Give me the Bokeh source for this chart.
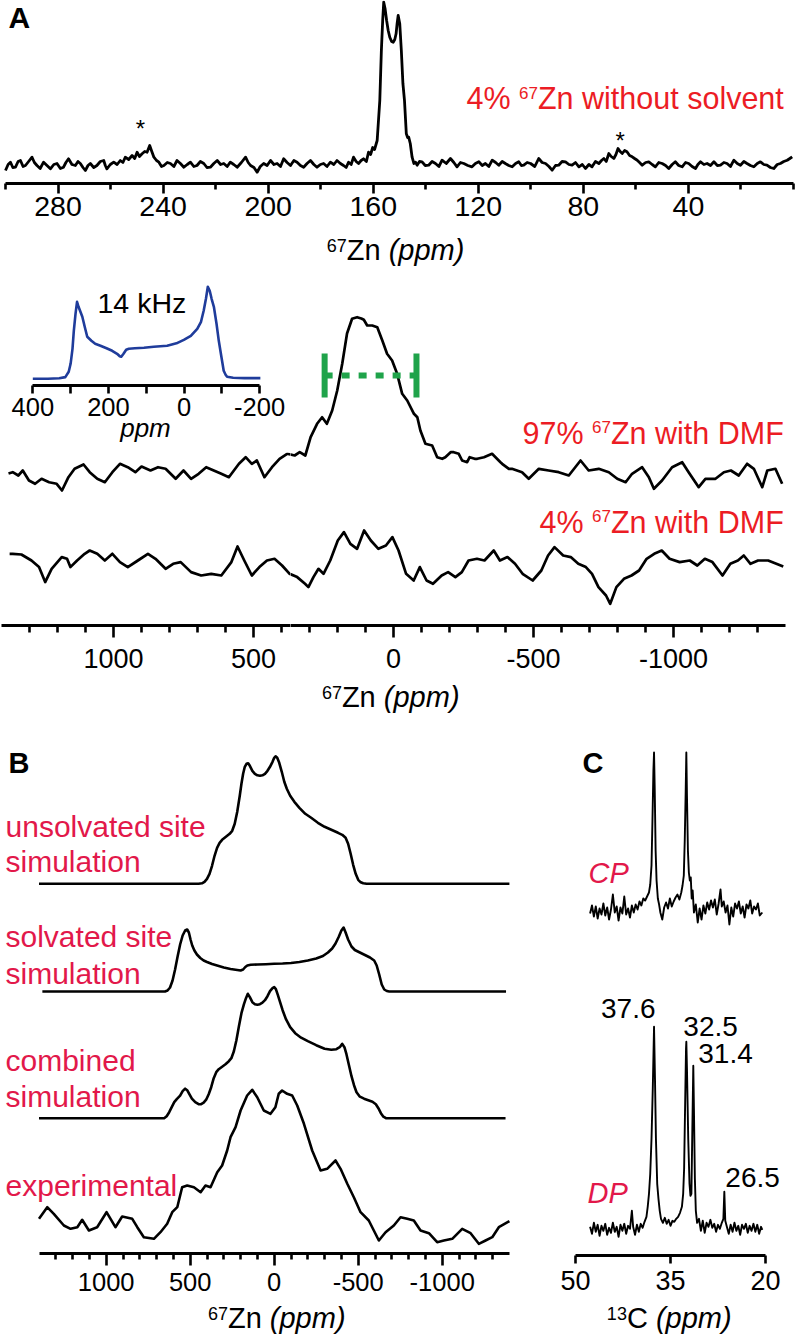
from bokeh.plotting import figure
from bokeh.layouts import row, column
from bokeh.models import Range1d, LinearAxis, FixedTicker, Label
from bokeh.embed import file_html
from bokeh.resources import INLINE

# ------------------------------------------------------------------ data
# Panel A (top): 4% 67Zn without solvent, (ppm, intensity)
A_SPEC = [
    (300.0, -7), (299.0, -1), (298.1, 1.3), (297.2, -4), (296.2, -3.7), (295.2, 2), (294.3, 3), (293.3, -3),
    (292.4, -2), (291.2, 2), (289.9, 6.3), (289.0, 1), (288.0, -2), (286.8, -5), (285.5, 1.3), (284.2, -2),
    (282.9, -5.3), (281.6, -1), (280.4, 0), (279.1, -5), (277.9, -3.7), (277.0, 1), (276.0, 4.7), (274.7, -1),
    (273.4, -2), (272.4, 2), (271.5, 0), (270.5, -4), (269.6, -7), (268.6, -2), (267.7, 0), (266.4, -4),
    (265.2, -2), (263.9, 2), (262.6, 3), (262.0, -2), (261.4, -5.3), (260.1, -1), (258.8, 1.3), (257.5, -1),
    (256.3, 3), (255.3, 1), (254.4, 6.3), (253.1, 4), (251.8, 8), (250.8, 5), (249.9, 11.3), (249.0, 7),
    (248.0, 9.7), (247.0, 12), (246.1, 11.3), (245.1, 18), (244.3, 12), (243.5, 6.3), (242.5, 3), (241.6, 1.3),
    (240.6, -3), (239.7, -2), (238.4, 1), (237.2, 0), (235.9, -3), (234.7, 3), (233.4, 0), (232.1, -3.7),
    (230.8, -1), (229.6, 1.3), (228.3, -3), (227.1, -2), (225.8, 2), (224.5, 0), (223.3, -4), (222.0, -3.7),
    (220.7, 0), (219.4, 3), (218.1, -1), (216.9, 0), (215.6, -3), (214.4, 1.3), (213.1, -1), (211.8, -3.7),
    (210.2, 1), (208.6, 6.3), (207.6, 1), (206.7, -2), (205.4, -4), (204.2, -8.7), (203.0, -3), (201.7, 0),
    (200.4, -2), (199.1, 3), (197.8, -1), (196.6, 0), (195.3, -3), (194.1, 4.7), (192.8, 1), (191.5, -2),
    (190.2, 3), (189.0, 1.3), (187.7, -2), (186.5, -3.7), (185.2, 0), (183.9, 3), (182.6, -1), (181.4, -3.7),
    (180.1, -1), (178.9, 0), (177.6, -3), (176.3, 1.3), (175.0, -1), (173.8, 3), (172.5, 0), (171.3, -2),
    (170.3, -4), (169.4, 1.3), (168.4, -1), (167.5, 6.3), (166.5, 2), (165.6, 0), (164.6, 3), (163.7, 4.7),
    (162.6, 2), (161.8, 11.3), (161.0, 9), (160.2, 16), (159.5, 14), (158.5, 23), (157.5, 63), (156.9, 113),
    (156.4, 143), (156.0, 161.3), (155.5, 155), (154.9, 143), (154.3, 133), (153.7, 126.3), (153.0, 122),
    (152.4, 121.3), (151.8, 124), (151.3, 129.7), (150.9, 140), (150.5, 148), (149.9, 139.7), (149.3, 113),
    (148.7, 80), (148.1, 63), (147.4, 29.7), (146.9, 26), (146.5, 26.3), (145.9, 20), (145.2, 6.3), (144.5, 0),
    (143.9, 1.3), (143.3, -1.7), (142.4, 2), (141.4, 1.7), (140.2, -2), (138.9, -1.7), (137.6, 2), (136.3, 0),
    (135.0, -3), (133.8, 3.3), (132.2, 0), (130.6, 5), (129.3, 1), (128.1, -3.3), (126.8, 1), (125.5, 0),
    (124.0, -2), (122.4, -3.3), (121.1, 0), (119.8, 1.7), (118.5, -2), (117.3, 0), (116.0, -3), (114.7, 3.3),
    (113.4, 1), (112.2, -1.7), (110.9, 2), (109.7, 0), (108.4, -2), (107.1, -3.3), (105.8, 0), (104.6, 1.7),
    (103.6, -2), (102.7, -1.7), (101.4, 1), (100.1, 0), (98.5, -3), (97.0, 5), (95.7, 1), (94.4, 0),
    (93.1, -3), (91.9, -6.7), (90.6, -2), (89.4, -1.7), (88.1, 2), (86.8, 1.7), (85.5, -1), (84.3, -1.7),
    (83.0, 1), (81.7, -3.3), (80.4, -1), (79.2, -5), (77.9, -1), (76.7, -3.3), (75.4, 2), (74.1, 0),
    (73.1, 3), (72.2, 5), (71.3, 2), (70.3, 10), (69.4, 7), (68.4, 5), (67.6, 9), (66.8, 15), (66.0, 12),
    (65.2, 10), (64.3, 13), (63.4, 11.7), (62.4, 8), (61.4, 6.7), (60.5, 5), (59.5, 3.3), (58.6, 1),
    (57.6, -1.7), (56.3, 1), (55.1, 1.7), (53.8, -1), (52.6, -3.3), (51.3, 1), (50.0, 0), (48.7, -2),
    (47.5, -5), (46.2, -1), (45.0, 1.7), (43.7, -2), (42.4, -3.3), (41.1, 1), (39.9, 0), (38.6, -3),
    (37.3, -5), (36.4, -1), (35.4, 1.7), (34.1, -1), (32.9, 0), (31.6, -2), (30.3, 1.7), (29.0, -2),
    (27.8, -1.7), (26.5, 1), (25.3, 0), (24.0, -3), (22.7, 3.3), (21.4, 0), (20.2, -1.7), (18.9, 2),
    (17.7, 0), (16.4, -2), (15.1, -3.3), (13.8, 0), (12.6, 1.7), (11.3, -1), (10.1, -1.7), (8.8, -4),
    (7.5, -5), (6.2, -1), (5.0, 0), (3.7, 2), (2.4, 3.3), (1.4, 5), (0.5, 6.7),
]
A_STAR_PPM = [248.6, 66.0]
A_MAJOR = [280, 240, 200, 160, 120, 80, 40]
A_LABELS = ["280", "240", "200", "160", "120", "80", "40"]
A_MINOR = [300, 260, 220, 180, 140, 100, 60, 20, 0]

# inset (blue, 14 kHz)
INSET_SPEC = [
    (400, 0), (360, 0), (330, 0.5), (314, 1.7), (305, 7), (300, 15), (295, 30), (291.5, 48), (287, 65),
    (283, 77), (279, 72), (274, 67), (269, 62), (262, 51), (256, 42), (245, 38), (235, 35), (221, 33),
    (205, 30.5), (190, 28), (177, 25), (170, 22.5), (166, 22), (160, 25), (153, 29), (146, 30), (130, 30.5),
    (106, 31), (80, 32), (44.7, 33), (20, 35.5), (0.5, 39), (-18, 43), (-35, 50), (-45, 57), (-52, 68),
    (-58, 80), (-63, 92), (-68, 88), (-73, 80), (-79, 72), (-86, 55), (-92, 38), (-98, 24), (-105, 8),
    (-110, 4), (-114, 2), (-130, 1), (-160, 0.7), (-202, 0.7),
]
INSET_MAJOR = [400, 200, 0, -200]
INSET_LABELS = ["400", "200", "0", "-200"]
INSET_MINOR = [300, 100, -100]

# middle: 97% 67Zn with DMF
DMF97_SPEC = [
    (1375, -3), (1360, -1.7), (1340, -5), (1324, 0), (1302, -10), (1280, -13.3), (1257, -8.3), (1230, -11.7),
    (1203, -13.3), (1184, -20), (1161, -6.7), (1139, 1.7), (1107, 6), (1085, -1.7), (1058, -8.3),
    (1031, -11.7), (1004, -1.7), (977, 6.7), (949, 3.3), (922, -1.7), (900, 4), (868, 0), (841, 3.3),
    (814, 1.7), (778, -8.3), (750, 0), (723, -8.3), (696, -3.3), (669, 3.3), (642, 0), (615, -3.3),
    (588, -6.7), (552, 6.7), (528, 13.3), (506, 6.7), (488, 10), (461, -6.7), (434, 3.3), (407, 11.7),
    (380, 16.7), (353, 15), (335, 18.3), (315, 15), (296, 33.3), (273, 46.7), (255, 53.3), (238, 46.7),
    (219, 60), (201, 80), (183, 107), (166, 137), (148, 151.7), (130, 153.3), (115, 152), (106, 150.7),
    (94, 145), (76, 145), (58, 143.3), (40, 130), (23, 116.7), (5, 110), (-13, 96.7), (-31, 76.7),
    (-49, 70), (-73, 56.7), (-85, 53.3), (-96, 40), (-114, 26.7), (-138, 25), (-156, 13.3), (-174, 11.7),
    (-185, 13.3), (-204, 18.3), (-215, 18.3), (-233, 16.7), (-245, 10), (-263, 8.3), (-272, 13.3),
    (-290, 11.7), (-299, 11.7), (-323, 13.3), (-352, 16.7), (-382, 8.3), (-388, 6.7), (-412, 1.7),
    (-423, 1.7), (-459, -1.7), (-483, -8.3), (-519, 1.7), (-554, 0), (-590, -1.7), (-626, -5), (-668, 10),
    (-697, 0), (-733, 1.7), (-769, -1.7), (-799, -8.3), (-829, -11.7), (-852, -3.3), (-888, 3.3),
    (-912, -6.7), (-930, -18.3), (-959, -10), (-995, 3.3), (-1031, 8.3), (-1054, -1.7), (-1090, -16.7),
    (-1114, -8.3), (-1150, -8.3), (-1180, -1.7), (-1205, 0), (-1233, -5), (-1263, 6.7), (-1287, 1.7),
    (-1317, -16.7), (-1335, 0), (-1364, 1.7), (-1388, -13.3),
]
# middle: 4% 67Zn with DMF
DMF4_SPEC = [
    (1371, 20), (1360, 20), (1329, 19.3), (1293, 13.3), (1266, 6.7), (1244, -8.3), (1221, 5), (1185, 16.7),
    (1166, 15), (1154, 6.7), (1130, 13.3), (1103, 20), (1085, 23.3), (1058, 20), (1031, 13.3), (1004, 20),
    (977, 11.7), (949, 6.7), (913, 13.3), (877, 20), (850, 15), (814, 5), (787, 10), (760, 11.7),
    (723, 1.7), (687, -1.7), (651, 0), (615, -1.7), (579, 11.7), (557, 27.3), (533, 13.3), (506, -1.7),
    (479, 6.7), (452, 13.3), (425, 15), (398, 8.3), (371, 0), (344, -3.3), (316, -10), (304, -13.3),
    (286, -3.3), (268, 5), (250, 0), (226, 13.3), (199, 33.3), (177, 41.7), (154, 30), (130, 25),
    (105, 43.3), (81, 33.3), (54, 25), (27, 28.3), (4, 36.7), (-18, 23.3), (-45, 0), (-72, -6.7),
    (-94, 6.7), (-118, -6.7), (-141, -10), (-172, -1.7), (-195, 1.7), (-221, -3.3), (-244, 1.7),
    (-268, 13.3), (-298, 15), (-325, 13.3), (-358, 23.3), (-380, 13.3), (-407, 16.7), (-434, 10),
    (-461, 0), (-497, -6.7), (-528, 3.3), (-552, 18.3), (-575, 26.7), (-606, 18.3), (-633, 16.7),
    (-660, 10), (-687, 6.7), (-709, 0), (-732, -13.3), (-759, -21.7), (-774, -30), (-796, -13.3),
    (-823, -5), (-850, -1.7), (-877, 3.3), (-904, 15), (-931, 20), (-958, 23.3), (-986, 15), (-1022, 11.7),
    (-1058, 13.3), (-1085, 8.3), (-1112, 15), (-1139, 11.7), (-1175, -1.7), (-1203, 10), (-1230, 13.3),
    (-1251, 18.3), (-1275, 10), (-1302, 13.3), (-1338, 13.3), (-1392, 7.3),
]
GREEN_PPM = [246, -82]
ZN_MAJOR = [1000, 500, 0, -500, -1000]
ZN_LABELS = ["1000", "500", "0", "-500", "-1000"]
ZN_MINOR = [1300, 1200, 1100, 900, 800, 700, 600, 400, 300, 200, 100, -100, -200, -300, -400,
            -600, -700, -800, -900, -1100, -1200, -1300]

# panel B
UNSOLV_SPEC = [
    (1400, 0), (450, 0), (430, 0.5), (415, 2), (400, 5), (385, 10), (370, 18), (355, 28), (340, 36),
    (325, 41), (310, 44), (295, 46), (280, 48), (265, 50), (250, 53), (235, 60), (220, 72), (205, 88),
    (195, 100), (185, 110), (175, 117), (165, 120), (155, 120.5), (145, 118), (130, 113), (115, 110),
    (100, 108.5), (85, 108), (70, 108.5), (55, 110), (40, 113), (25, 117), (10, 122), (0, 126), (-8, 127.5),
    (-18, 126), (-30, 121), (-45, 112), (-60, 102), (-75, 95), (-95, 88), (-120, 82), (-150, 76),
    (-185, 70), (-220, 66), (-260, 61), (-300, 57), (-340, 54), (-380, 51), (-405, 49), (-425, 46),
    (-440, 40), (-455, 30), (-470, 19), (-485, 10), (-500, 4), (-515, 1.5), (-530, 0.5), (-550, 0),
    (-1400, 0),
]
SOLV_SPEC = [
    (1380, 0), (650, 0), (635, 1), (620, 4), (605, 11), (590, 22), (575, 35), (560, 47), (545, 56),
    (530, 61), (518, 62), (508, 59), (498, 52), (488, 46), (475, 41), (460, 37), (440, 33.5), (420, 31),
    (400, 29.5), (370, 27.5), (340, 26), (300, 24), (260, 22.5), (220, 21.5), (200, 21), (185, 22),
    (172, 24.5), (160, 26), (140, 26.7), (100, 27), (50, 27.3), (0, 27.7), (-50, 28), (-100, 28.5),
    (-150, 29.5), (-200, 31), (-250, 33), (-290, 35.5), (-320, 39), (-345, 43), (-365, 48), (-385, 55),
    (-400, 61), (-413, 64), (-425, 59), (-440, 52), (-460, 45), (-480, 41.5), (-510, 39), (-540, 36.5),
    (-570, 34), (-595, 31), (-610, 26), (-625, 17), (-640, 7), (-655, 2), (-670, 0.5), (-685, 0),
    (-1380, 0),
]
COMB_SPEC = [
    (1400, 0), (655, 0), (640, 2), (625, 6), (610, 11), (595, 16), (580, 19), (560, 22.5), (545, 27),
    (530, 29.5), (518, 28), (505, 24), (490, 19.5), (470, 16), (450, 14), (435, 14), (420, 15.5),
    (405, 18.5), (390, 24), (375, 31), (360, 40), (345, 46), (330, 49), (310, 51.5), (290, 54), (270, 57),
    (255, 60), (240, 67), (225, 78), (210, 92), (195, 105), (180, 114), (168, 120), (157, 124.4),
    (145, 121), (130, 116), (115, 114), (100, 113.5), (85, 114), (70, 115.5), (55, 118), (40, 122),
    (25, 127), (10, 130), (0, 131), (-10, 129), (-22, 123), (-35, 116), (-50, 108), (-70, 99), (-95, 91),
    (-125, 85), (-160, 80.5), (-200, 77), (-250, 73), (-300, 69.5), (-340, 68.5), (-370, 69), (-390, 71),
    (-405, 74.3), (-418, 71), (-430, 64), (-445, 53), (-460, 42), (-475, 33), (-490, 26), (-510, 21.5),
    (-535, 19.5), (-560, 18), (-585, 16.5), (-605, 14), (-620, 10), (-635, 5), (-650, 1.5), (-665, 0),
    (-1377, 0),
]
EXP_SPEC = [
    (1400, 31.7), (1351, 43.3), (1312, 36.7), (1252, 25), (1212, 21.7), (1172, 23.3), (1143, 30.7),
    (1103, 20), (1054, 23.3), (998, 38.3), (945, 23.3), (905, 34), (845, 31.7), (815, 23.3), (776, 13.3),
    (716, 11.7), (677, 18.3), (637, 26.7), (607, 38.3), (577, 43.3), (548, 63.3), (518, 65), (478, 63.3),
    (438, 58.3), (409, 65), (379, 63.3), (339, 78.3), (310, 85), (280, 100), (260, 113.3), (230, 123.3),
    (200, 140), (161, 155), (131, 160.7), (101, 153.3), (62, 140), (22, 136.7), (-7, 143.3), (-27, 156.7),
    (-47, 160), (-77, 156.7), (-107, 155), (-137, 145), (-177, 126.7), (-226, 100), (-276, 80),
    (-315, 81.7), (-365, 90), (-395, 81.7), (-435, 66.7), (-474, 53.3), (-514, 38.3), (-563, 30),
    (-593, 20), (-623, 10), (-663, 18.3), (-712, 25), (-752, 33.3), (-792, 31.7), (-831, 30), (-871, 20),
    (-921, 17.3), (-970, 8.3), (-1010, 10), (-1060, 11.7), (-1119, 21.7), (-1169, 17.3), (-1218, 6.7),
    (-1258, 10), (-1298, 13.3), (-1337, 23.3), (-1400, 29.3),
]
B_LABELS = [["unsolvated site", "simulation"], ["solvated site", "simulation"],
            ["combined", "simulation"], ["experimental"]]

# panel C: 13C CP and DP
CP_SPEC = [
    (47.7, -3), (47.4, 5), (47.1, -6), (46.8, 4), (46.5, -8), (46.2, 2), (45.9, -4), (45.6, 7), (45.3, -5),
    (45.0, 3), (44.7, -9), (44.4, 1), (44.1, 16), (43.8, -2), (43.5, 4), (43.2, -10), (42.9, 3), (42.6, -3),
    (42.3, 14), (42.0, -4), (41.7, 2), (41.4, -7), (41.1, 5), (40.8, -2), (40.5, 6), (40.2, 1), (39.9, 9),
    (39.6, 5), (39.3, 12), (39.0, 10), (38.7, 14), (38.4, 18), (38.2, 26), (38.0, 45), (37.85, 90),
    (37.7, 140), (37.6, 158), (37.5, 125), (37.35, 60), (37.2, 30), (37.0, 12), (36.8, 6), (36.6, -2),
    (36.3, -9), (36.0, 3), (35.7, 8), (35.4, 2), (35.1, 12), (34.8, 4), (34.5, 9), (34.2, 13), (33.9, 16),
    (33.6, 11), (33.3, 18), (33.1, 25), (32.9, 35), (32.75, 70), (32.6, 120), (32.5, 158), (32.4, 115),
    (32.25, 60), (32.1, 38), (31.95, 30), (31.8, 33), (31.65, 12), (31.5, 20), (31.3, -2), (31.0, 6),
    (30.7, -12), (30.4, 2), (30.1, -9), (29.8, 5), (29.5, -3), (29.2, 8), (28.9, 1), (28.6, 10),
    (28.3, 3), (28.0, 11), (27.7, -4), (27.4, 7), (27.1, 21), (26.9, 4), (26.6, 9), (26.3, -2), (26.0, 5),
    (25.7, -14), (25.4, 3), (25.1, -6), (24.8, 7), (24.5, 2), (24.2, 9), (23.9, -3), (23.6, 4), (23.3, -7),
    (23.0, 6), (22.7, 2), (22.4, 10), (22.1, -3), (21.8, 4), (21.5, 1), (21.2, 7), (20.9, -5), (20.5, -2),
]
DP_SPEC = [
    (47.7, 2), (47.4, -5), (47.1, 6), (46.8, -3), (46.5, 4), (46.2, -7), (45.9, 3), (45.6, -2), (45.3, 5),
    (45.0, -6), (44.7, 1), (44.4, -4), (44.1, 6), (43.8, -3), (43.5, 2), (43.2, -8), (42.9, 4), (42.6, -2),
    (42.3, 5), (42.0, -5), (41.7, 3), (41.4, 0), (41.1, 18), (40.9, 2), (40.6, -6), (40.3, 4), (40.0, -3),
    (39.7, 5), (39.4, 1), (39.1, 7), (38.8, 12), (38.6, 22), (38.4, 35), (38.2, 55), (38.0, 90),
    (37.8, 140), (37.6, 202), (37.45, 150), (37.3, 90), (37.1, 45), (36.9, 30), (36.7, 18), (36.5, 10),
    (36.2, 6), (35.9, 11), (35.6, 5), (35.3, 9), (35.0, 3), (34.7, 8), (34.4, 7), (34.1, 10), (33.8, 12),
    (33.5, 16), (33.2, 22), (33.0, 35), (32.85, 60), (32.7, 120), (32.55, 180), (32.5, 187), (32.4, 160),
    (32.2, 90), (32.0, 45), (31.85, 33), (31.7, 35), (31.55, 100), (31.4, 163), (31.3, 120), (31.15, 50),
    (31.0, 18), (30.8, 6), (30.5, 10), (30.2, -2), (29.9, 8), (29.6, -4), (29.3, 6), (29.0, 2), (28.7, 9),
    (28.4, 1), (28.1, 5), (27.8, -3), (27.5, 4), (27.2, 0), (26.9, 6), (26.65, 10), (26.5, 37),
    (26.35, 8), (26.1, 2), (25.8, -5), (25.5, 4), (25.2, -3), (24.9, 6), (24.6, -2), (24.3, 3), (24.0, -6),
    (23.7, 4), (23.4, 0), (23.1, 5), (22.8, -4), (22.5, 3), (22.2, -2), (21.9, 5), (21.6, -3), (21.3, 4),
    (21.0, -5), (20.7, 2), (20.5, -1),
]
C_PEAKS = [37.6, 32.5, 31.4, 26.5]
C_PEAK_LABELS = ["37.6", "32.5", "31.4", "26.5"]
C_MAJOR = [50, 35, 20]
C_LABELS = ["50", "35", "20"]

# ------------------------------------------------------------------ helpers
FONT = "Liberation Sans"
RED_A = "#EC1C24"
RED_B = "#E2184A"
BLUE = "#1F3C9B"
GREEN = "#1FA34A"
MID = 0.3465  # distance from the alphabetic baseline to the middle of the text box, in em

ADV = {' ': 278, '%': 889, '(': 333, ')': 333, '.': 278, '-': 333, '*': 389,
       'C': 722, 'D': 722, 'F': 611, 'H': 722, 'M': 833, 'P': 667, 'Z': 611,
       'a': 556, 'b': 556, 'c': 500, 'd': 556, 'e': 556, 'h': 556, 'i': 222, 'k': 500,
       'l': 222, 'm': 833, 'n': 556, 'o': 556, 'p': 556, 'r': 333, 's': 500, 't': 278,
       'u': 556, 'v': 500, 'w': 722, 'x': 500, 'z': 500}


def fs(v):
    return f"{v:.1f}px"


def tw(s, size):
    return sum(ADV.get(c, 556) for c in s) * size / 1000.0


def rich(p, x, y, pieces, align="left", color="black", dx=0.0):
    """Pieces of text on one baseline y (data units = px), each (text, size, style, rise)."""
    widths = [tw(t, s) for t, s, st, dy in pieces]
    total = sum(widths)
    off = {"left": 0.0, "center": -total / 2.0, "right": -total}[align] + dx
    for (t, s, st, dy), w in zip(pieces, widths):
        stripped = t.lstrip(" ")
        lead = tw(t[:len(t) - len(stripped)], s)
        p.add_layout(Label(x=x, y=y + dy + MID * s, x_offset=off + lead, text=stripped.rstrip(" "),
                           text_font=FONT, text_font_size=fs(s), text_font_style=st,
                           text_color=color, text_align="left", text_baseline="middle"))
        off += w


def mkfig(w, h, xr, yr, bottom=0):
    p = figure(width=w, height=h, x_range=Range1d(*xr), y_range=Range1d(*yr), tools="",
               toolbar_location=None, output_backend="svg", x_axis_location=None,
               y_axis_location=None, min_border_left=0, min_border_right=0,
               min_border_top=0, min_border_bottom=bottom)
    p.outline_line_color = None
    p.grid.visible = False
    p.background_fill_color = "white"
    p.border_fill_color = "white"
    return p


def xaxis(p, major, labels, minor, bounds, tout, mout, standoff, size):
    ax = LinearAxis(ticker=FixedTicker(ticks=major, minor_ticks=minor), bounds=bounds)
    ax.major_label_overrides = {t: l for t, l in zip(major, labels)}
    ax.axis_line_width = 3
    ax.axis_line_color = "black"
    ax.major_tick_line_width = 2.6
    ax.minor_tick_line_width = 2.6
    ax.major_tick_in = 0
    ax.major_tick_out = tout
    ax.minor_tick_in = 0
    ax.minor_tick_out = mout
    ax.major_label_standoff = standoff
    ax.major_label_text_font = FONT
    ax.major_label_text_font_size = fs(size)
    ax.major_label_text_color = "black"
    p.add_layout(ax, "below")
    return ax


def xs(spec):
    return [a for a, b in spec]


def ys(spec, off=0.0):
    return [b + off for a, b in spec]


ZN_TITLE = [("67", 18, "normal", 9), ("Zn", 29, "normal", 0), (" (ppm)", 29, "italic", 0)]
C_TITLE = [("13", 18, "normal", 9), ("C", 29, "normal", 0), (" (ppm)", 29, "italic", 0)]

# ------------------------------------------------------------------ panel A top
A_X = (301.9, -0.76)
pa = mkfig(795, 232, A_X, (-20, 163), 232 - 183)
pa.line(xs(A_SPEC), ys(A_SPEC), line_color="black", line_width=2.8, line_join="round")
xaxis(pa, A_MAJOR, A_LABELS, A_MINOR, (0, 300), 10, 6, 3, 28.5)
rich(pa, 3.7, 54.7, [("4% ", 30.5, "normal", 0), ("67", 17, "normal", 10),
                     ("Zn without solvent", 30.5, "normal", 0)], "right", RED_A)
rich(pa, A_STAR_PPM[0], 27, [("*", 24, "normal", 0)], "center")
rich(pa, A_STAR_PPM[1], 15, [("*", 24, "normal", 0)], "center")
rich(pa, 298.9, 136, [("A", 30, "bold", 0)])
ta = mkfig(795, 268 - 232, A_X, (0, 36))
rich(ta, 151.5, 8, ZN_TITLE, "center")

# ------------------------------------------------------------------ panel A middle
OFF97 = 155
OFF4 = 51.7

pin = mkfig(290, 452 - 268, (485.45, -281.7), (-6.7, 110.3), 452 - 385)
pin.line(xs(INSET_SPEC), ys(INSET_SPEC), line_color=BLUE, line_width=2.6, line_join="round")
ax_in = xaxis(pin, INSET_MAJOR, INSET_LABELS, INSET_MINOR, (-200, 400), 8, 8, 4, 25.5)
ax_in.axis_label = "ppm"
ax_in.axis_label_text_font = FONT
ax_in.axis_label_text_font_size = fs(26)
ax_in.axis_label_text_font_style = "italic"
ax_in.axis_label_text_color = "black"
ax_in.axis_label_standoff = -6
rich(pin, 228.8, 66.3, [("14 kHz", 28.5, "normal", 0)])

pll = mkfig(290, 679 - 452, (1403.6, 367.9), (0, 173), 679 - 625)
prr = mkfig(505, 679 - 268, (367.9, -1435.7), (0, 357), 679 - 625)
for pp in (pll, prr):
    pp.line(xs(DMF97_SPEC), ys(DMF97_SPEC, OFF97), line_color="black", line_width=2.7,
            line_join="round")
    pp.line(xs(DMF4_SPEC), ys(DMF4_SPEC, OFF4), line_color="black", line_width=2.7,
            line_join="round")
    xaxis(pp, ZN_MAJOR, ZN_LABELS, ZN_MINOR, (-1400, 1400), 12, 7, 11, 27)

prr.segment(x0=GREEN_PPM, x1=GREEN_PPM, y0=[OFF97 + 73] * 2, y1=[OFF97 + 117] * 2,
            line_color=GREEN, line_width=6)
prr.segment(x0=[GREEN_PPM[0]], x1=[GREEN_PPM[1]], y0=[OFF97 + 95], y1=[OFF97 + 95],
            line_color=GREEN, line_width=6, line_dash="8 9")
rich(prr, -1393.9, 182.3, [("97% ", 30.5, "normal", 0), ("67", 17, "normal", 10),
                           ("Zn with DMF", 30.5, "normal", 0)], "right", RED_A)
rich(prr, -1393.9, 93.3, [("4% ", 30.5, "normal", 0), ("67", 17, "normal", 10),
                          ("Zn with DMF", 30.5, "normal", 0)], "right", RED_A)
tm = mkfig(795, 716 - 679, (1403.6, -1435.7), (0, 37))
rich(tm, 10, 9, ZN_TITLE, "center")

# ------------------------------------------------------------------ panel B
OFF_UNS = 369.7
OFF_SOL = 262
OFF_COM = 135.3
OFF_EXP = 3
B_X = (1629.2, -1585.1)
pb = mkfig(540, 1301 - 716, B_X, (0, 537), 1301 - 1253)
for spec, off in ((UNSOLV_SPEC, OFF_UNS), (SOLV_SPEC, OFF_SOL), (COMB_SPEC, OFF_COM),
                  (EXP_SPEC, OFF_EXP)):
    pb.line(xs(spec), ys(spec, off), line_color="black", line_width=2.6, line_join="round")
xaxis(pb, ZN_MAJOR, ZN_LABELS, ZN_MINOR, (-1400, 1400), 12, 6, 7, 25.5)
rich(pb, 1581.5, 480, [("B", 29, "bold", 0)])
B_BASELINES = [[416.3, 381.3], [306.3, 269.7], [183, 146.3], [58]]
for lines, ylist in zip(B_LABELS, B_BASELINES):
    for t, yy in zip(lines, ylist):
        rich(pb, 1599.4, yy, [(t, 30, "normal", 0)], "left", RED_B)
tb = mkfig(540, 1337 - 1301, B_X, (0, 36))
rich(tb, -15, 9, ZN_TITLE, "center")

# ------------------------------------------------------------------ panel C
OFF_CP = 345
OFF_DP = 26.7
C_X = (55.53, 15.26)
pc = mkfig(255, 1301 - 716, C_X, (0, 539), 1301 - 1255)
pc.line(xs(CP_SPEC), ys(CP_SPEC, OFF_CP), line_color="black", line_width=1.9, line_join="round")
pc.line(xs(DP_SPEC), ys(DP_SPEC, OFF_DP), line_color="black", line_width=1.9, line_join="round")
xaxis(pc, C_MAJOR, C_LABELS, [], (20, 50), 8, 0, 7, 27)
rich(pc, 48.9, 482, [("C", 29, "bold", 0)])
rich(pc, 47.95, 372, [("CP", 29, "italic", 0)], "left", RED_B)
rich(pc, 48.1, 52, [("DP", 29, "italic", 0)], "left", RED_B)
C_LABEL_Y = [237, 219, 192, 68]
C_LABEL_ALIGN = [("right", 1.5), ("left", -3), ("left", 5), ("left", 1)]
for pk, lab, yy, (al, dx) in zip(C_PEAKS, C_PEAK_LABELS, C_LABEL_Y, C_LABEL_ALIGN):
    rich(pc, pk, yy, [(lab, 28, "normal", 0)], al, "black", dx)
tc = mkfig(255, 1337 - 1301, C_X, (0, 36))
rich(tc, 35.2, 9, C_TITLE, "center")

layout = column(pa, ta, row(column(pin, pll), prr), tm, row(column(pb, tb), column(pc, tc)))
open("out.html", "w").write(file_html(layout, INLINE))
